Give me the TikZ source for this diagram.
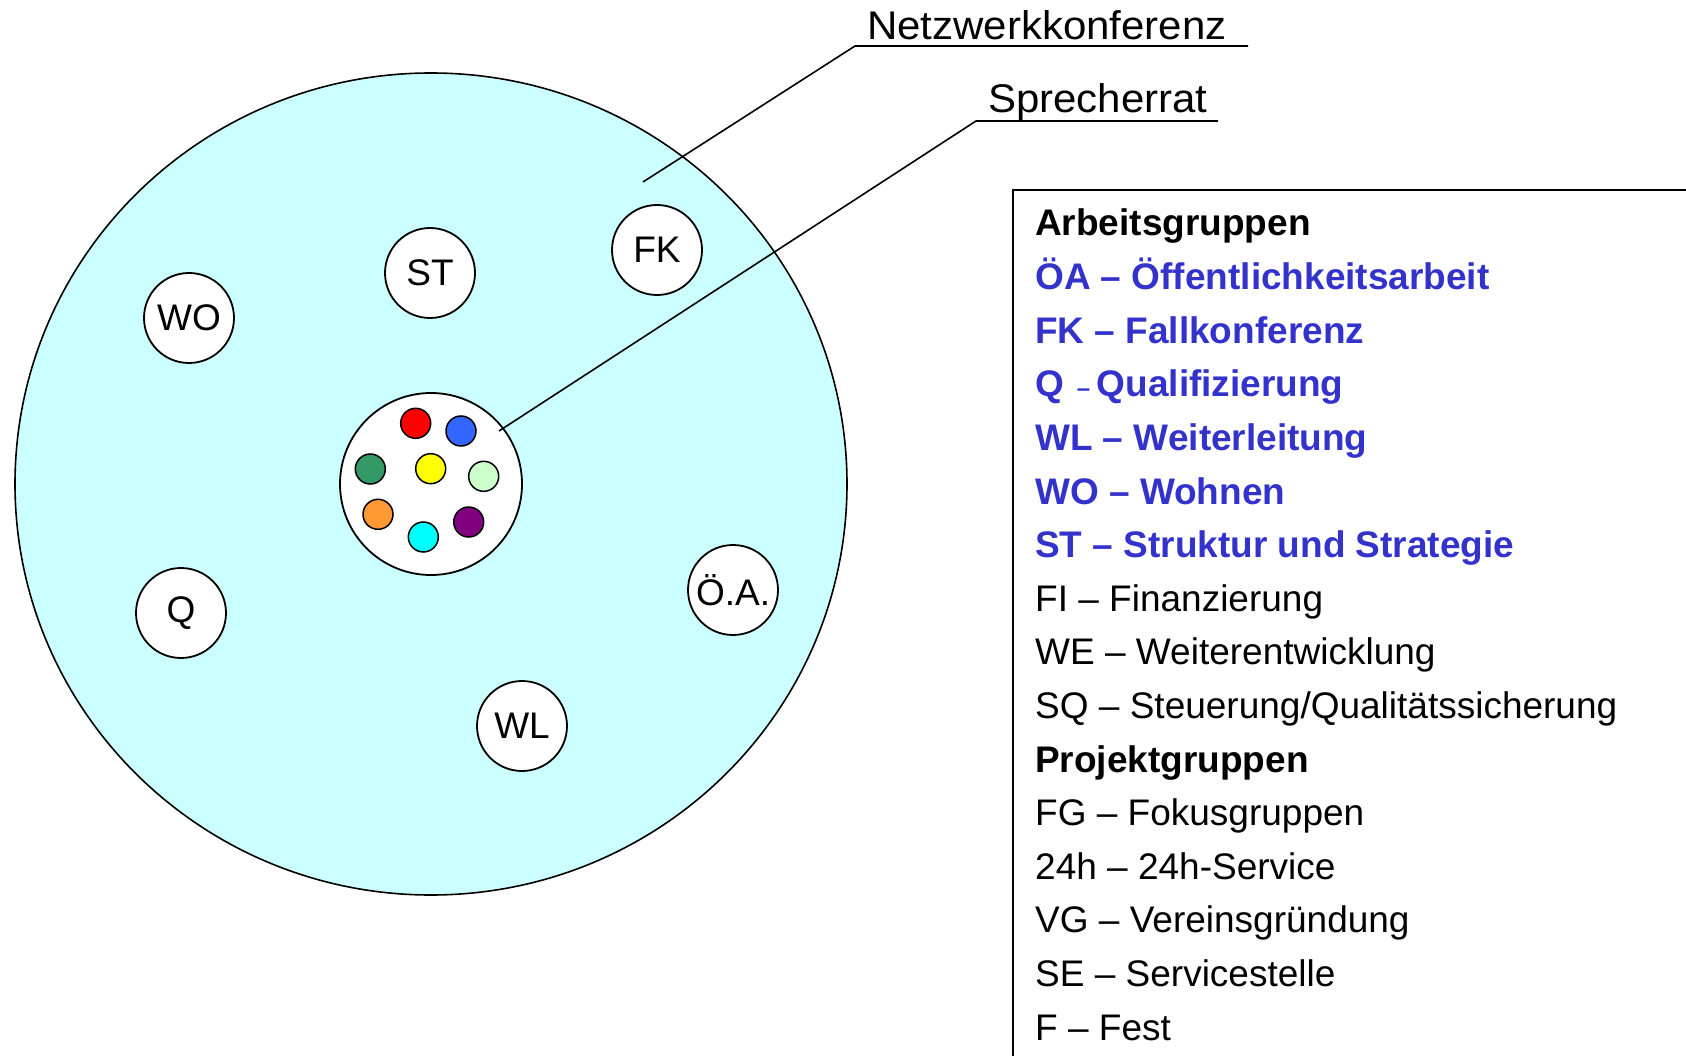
\documentclass[tikz,border=0pt]{standalone}
\usepackage{fontspec}
\usetikzlibrary{shapes.geometric}
\setmainfont{Liberation Sans}
\newfontfamily\widefont{Liberation Sans}[FakeStretch=1.05]
\newfontfamily\lblfont{Liberation Sans}
\newcommand\myfs[1]{\fontsize{#1}{#1}\selectfont}
\definecolor{bgcyan}{HTML}{CCFFFF}
\definecolor{legblue}{HTML}{3333CC}
\definecolor{dred}{HTML}{FF0000}
\definecolor{dblue}{HTML}{3366FF}
\definecolor{dgreen}{HTML}{339966}
\definecolor{dyellow}{HTML}{FFFF00}
\definecolor{dlgreen}{HTML}{CCFFCC}
\definecolor{dorange}{HTML}{FF9933}
\definecolor{dcyan}{HTML}{00FFFF}
\definecolor{dpurple}{HTML}{800080}
\begin{document}
\begin{tikzpicture}[x=1pt,y=-1pt,
  smallc/.style={circle,draw,fill=white,minimum size=90pt,inner sep=0pt,line width=1.8pt,font=\lblfont\myfs{37}},
  dotc/.style={circle,draw,minimum size=30pt,inner sep=0pt,line width=1.5pt},
  leg/.style={anchor=base west,inner sep=0pt,font=\myfs{37}},
  legb/.style={leg,font=\myfs{37}\bfseries,text=legblue},
  head/.style={leg,font=\myfs{37}\bfseries},
  toplbl/.style={anchor=base west,inner sep=0pt,font=\widefont\myfs{40}},
  leader/.style={line width=1.6pt}]
\useasboundingbox (0,0) rectangle (1686,1056);
\clip (0,0) rectangle (1686,1056);

% big circle: Netzwerkkonferenz
\node[ellipse,draw,fill=bgcyan,line width=1.6pt,minimum width=832pt,minimum height=822pt,inner sep=0pt] (nk) at (431,484) {};

% Sprecherrat circle
\node[circle,draw,fill=white,line width=1.8pt,minimum size=182pt,inner sep=0pt] (sr) at (431,484) {};

% coloured dots
\node[dotc,fill=dred]    (d1) at (415.7,423.3) {};
\node[dotc,fill=dblue]   (d2) at (461,431) {};
\node[dotc,fill=dgreen]  (d3) at (370.3,469) {};
\node[dotc,fill=dyellow] (d4) at (430.7,468.7) {};
\node[dotc,fill=dlgreen] (d5) at (483.7,476.3) {};
\node[dotc,fill=dorange] (d6) at (378,514.3) {};
\node[dotc,fill=dcyan]   (d7) at (423.3,537) {};
\node[dotc,fill=dpurple] (d8) at (468.7,522) {};

% working group circles
\node[smallc] (st) at (430,273) {ST};
\node[smallc] (fk) at (657,250) {FK};
\node[smallc] (wo) at (189,318) {WO};
\node[smallc] (q)  at (181,613) {Q};
\node[smallc] (oa) at (733,590) {Ö.A.};
\node[smallc] (wl) at (522,726) {WL};

% leader lines
\coordinate (nkin) at (643,182);
\coordinate (nkc)  at (855,46);
\coordinate (nke)  at (1248,46);
\draw[leader] (nkin) -- (nkc) -- (nke);
\node[toplbl] (nklbl) at (867,40) {Netzwerkkonferenz};

\coordinate (srin) at (499,431);
\coordinate (src)  at (976,121);
\coordinate (sre)  at (1218,121);
\draw[leader] (srin) -- (src) -- (sre);
\node[toplbl] (srlbl) at (988,113) {Sprecherrat};

% legend box
\coordinate (bxb) at (1013,1100);
\coordinate (bxc) at (1013,190);
\coordinate (bxr) at (1700,190);
\draw[line width=2pt] (bxb) -- (bxc) -- (bxr);

% legend text
\node[head] (l0)  at (1035,236.0) {Arbeitsgruppen};
\node[legb] (l1)  at (1035,289.6) {ÖA – Öffentlichkeitsarbeit};
\node[legb] (l2)  at (1035,343.2) {FK – Fallkonferenz};
\node[legb] (l3)  at (1035,396.8) {Q\,{\myfs{24}\ –\ }Qualifizierung};
\node[legb] (l4)  at (1035,450.4) {WL – Weiterleitung};
\node[legb] (l5)  at (1035,504.0) {WO – Wohnen};
\node[legb] (l6)  at (1035,557.6) {ST – Struktur und Strategie};
\node[leg]  (l7)  at (1035,611.2) {FI – Finanzierung};
\node[leg]  (l8)  at (1035,664.8) {WE – Weiterentwicklung};
\node[leg]  (l9)  at (1035,718.4) {SQ – Steuerung/Qualitätssicherung};
\node[head] (l10) at (1035,772.0) {Projektgruppen};
\node[leg]  (l11) at (1035,825.6) {FG – Fokusgruppen};
\node[leg]  (l12) at (1035,879.2) {24h – 24h-Service};
\node[leg]  (l13) at (1035,932.8) {VG – Vereinsgründung};
\node[leg]  (l14) at (1035,986.4) {SE – Servicestelle};
\node[leg]  (l15) at (1035,1040.0) {F – Fest};
\end{tikzpicture}
\end{document}
